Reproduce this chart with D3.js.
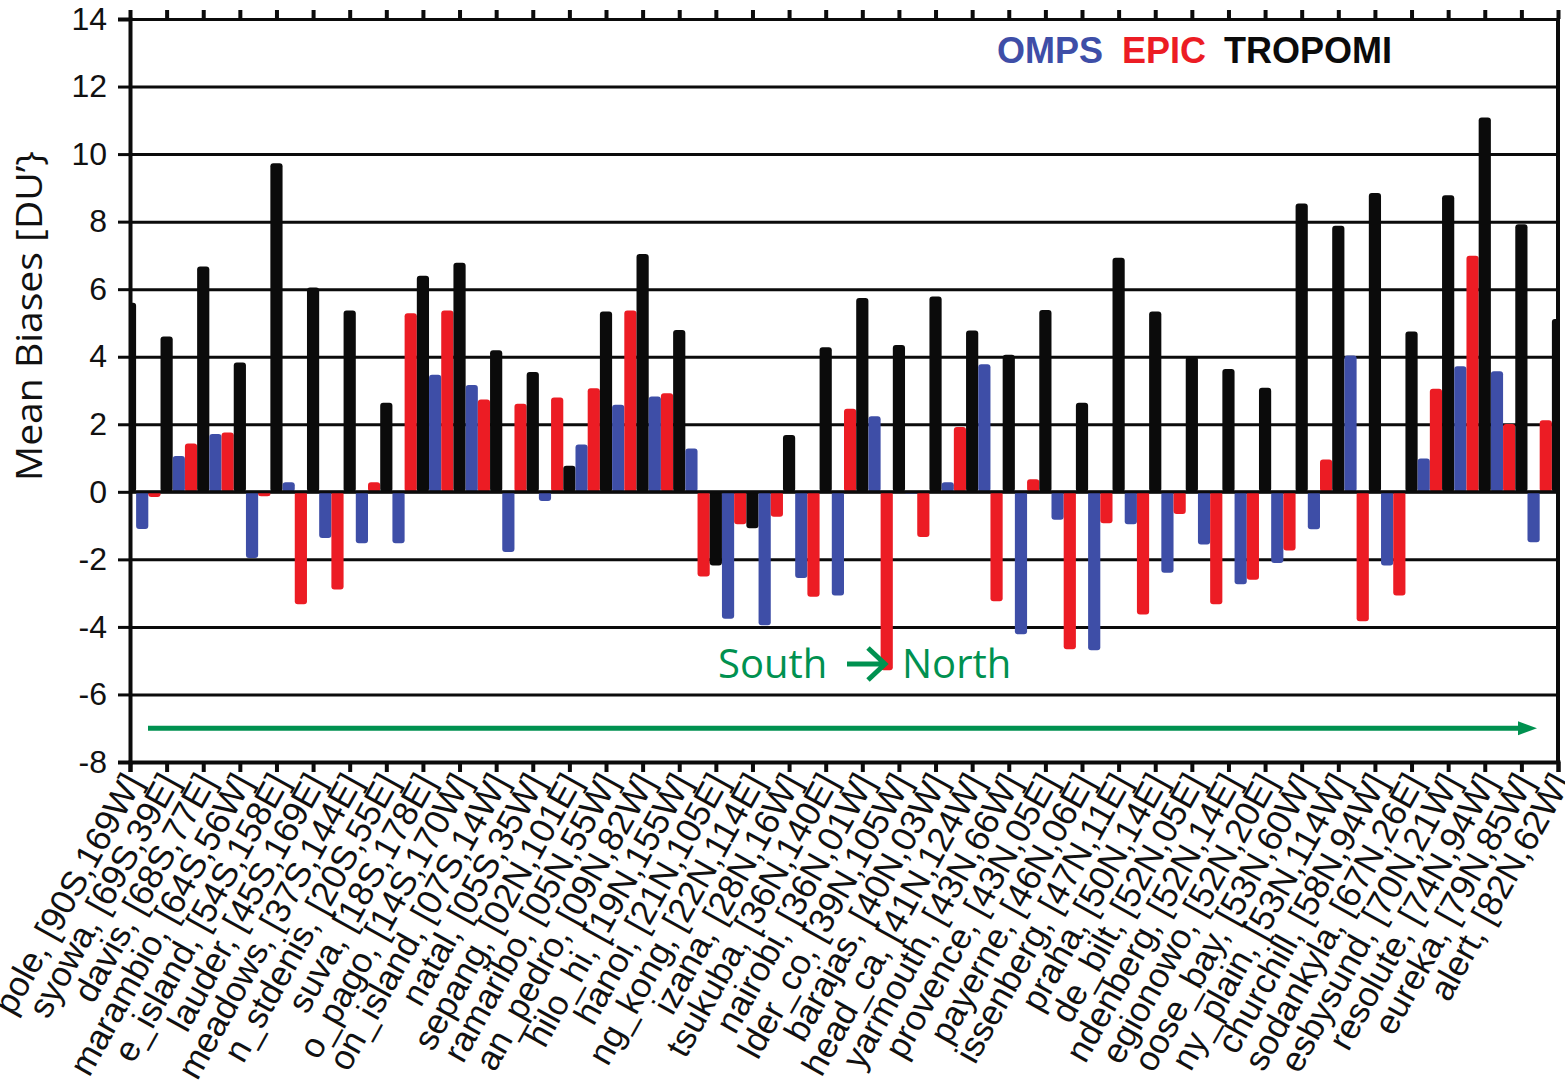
<!DOCTYPE html>
<html>
<head>
<meta charset="utf-8">
<script src="https://cdn.jsdelivr.net/npm/d3@7/dist/d3.min.js"></script>
<style>
  body { margin: 0; background: #fff; }
</style>
</head>
<body>
<div id="chart"></div>
<script>
// stations, south to north (names are cut as in the original figure)
const stations = [
  "pole, [90S,169W]", "syowa, [69S,39E]", "davis, [68S,77E]", "marambio, [64S,56W]",
  "e_island, [54S,158E]", "lauder, [45S,169E]", "meadows, [37S,144E]", "n_stdenis, [20S,55E]",
  "suva, [18S,178E]", "o_pago, [14S,170W]", "on_island, [07S,14W]", "natal, [05S,35W]",
  "sepang, [02N,101E]", "ramaribo, [05N,55W]", "an_pedro, [09N,82W]", "hilo_hi, [19N,155W]",
  "hanoi, [21N,105E]", "ng_kong, [22N,114E]", "izana, [28N,16W]", "tsukuba, [36N,140E]",
  "nairobi, [36N,01W]", "lder_co, [39N,105W]", "barajas, [40N,03W]", "head_ca, [41N,124W]",
  "yarmouth, [43N,66W]", "provence, [43N,05E]", "payerne, [46N,06E]", "issenberg, [47N,11E]",
  "praha, [50N,14E]", "de_bilt, [52N,05E]", "ndenberg, [52N,14E]", "egionowo, [52N,20E]",
  "oose_bay, [53N,60W]", "ny_plain, [53N,114W]", "churchill, [58N,94W]", "sodankyla, [67N,26E]",
  "esbysund, [70N,21W]", "resolute, [74N,94W]", "eureka, [79N,85W]", "alert, [82N,62W]"
];

const series = ["OMPS", "EPIC", "TROPOMI"];

// mean biases (DU)
const omps = [
  null, -1.1, 1.06, 1.71, -1.96, 0.28, -1.37, -1.52, -1.52, 3.47,
  3.16, -1.78, -0.27, 1.4, 2.58, 2.82, 1.28, -3.76, -3.95, -2.55,
  -3.07, 2.24, -0.05, 0.28, 3.78, -4.22, -0.83, -4.69, -0.96, -2.4,
  -1.56, -2.74, -2.11, -1.11, 4.04, -2.18, 0.99, 3.72, 3.57, -1.49
];
const epic = [
  null, -0.15, 1.43, 1.76, -0.13, -3.33, -2.89, 0.28, 5.29, 5.37,
  2.73, 2.61, 2.79, 3.07, 5.37, 2.92, -2.51, -0.96, -0.74, -3.11,
  2.46, -5.28, -1.34, 1.92, -3.24, 0.37, -4.66, -0.93, -3.63, -0.66,
  -3.33, -2.6, -1.74, 0.96, -3.83, -3.07, 3.05, 6.99, 2.01, 2.12
];
const tropomi = [
  5.6, 4.6, 6.67, 3.83, 9.73, 6.05, 5.37, 2.64, 6.4, 6.78,
  4.19, 3.55, 0.77, 5.34, 7.04, 4.79, -2.18, -1.08, 1.68, 4.28,
  5.74, 4.35, 5.78, 4.78, 4.06, 5.38, 2.64, 6.93, 5.34, 4.0,
  3.64, 3.08, 8.54, 7.88, 8.85, 4.75, 8.78, 11.08, 7.92, 5.12
];

const yTicks = d3.range(-8, 15, 2);
const colors = { OMPS: "#3e4ea7", EPIC: "#ec1c24", TROPOMI: "#0b0b0b" };

const W = 1565, H = 1089;
const margin = { top: 19, right: 7, bottom: 327, left: 130 };
const width = W - margin.left - margin.right;
const height = H - margin.top - margin.bottom;

const svg = d3.select("#chart").append("svg")
  .attr("width", W)
  .attr("height", H);

const g = svg.append("g")
  .attr("transform", `translate(${margin.left},${margin.top})`);

const x = d3.scalePoint().domain(stations).range([0, width]);
const y = d3.scaleLinear().domain([-8, 14]).range([height, 0]);

// three bars per station, the black one sits on the tick
const w = x.step() / 3;
const sub = d3.scaleBand().domain(series).range([-2.5 * w, 0.5 * w]).padding(0);

svg.append("defs").append("clipPath").attr("id", "plot")
  .append("rect").attr("width", width).attr("height", height);

// gridlines
g.append("g")
  .call(d3.axisLeft(y).tickValues(yTicks).tickSize(-width).tickFormat(""))
  .call(s => s.select(".domain").remove())
  .call(s => s.selectAll("line").attr("stroke", "#0b0b0b").attr("stroke-width", 3));

const rows = [];
stations.forEach((s, i) => {
  [["OMPS", omps[i]], ["EPIC", epic[i]], ["TROPOMI", tropomi[i]]].forEach(([k, v]) => {
    if (v !== null) rows.push({ station: s, key: k, value: v });
  });
});

g.append("g").attr("clip-path", "url(#plot)")
  .selectAll("rect")
  .data(rows)
  .enter()
  .append("rect")
  .attr("x", d => x(d.station) + sub(d.key))
  .attr("y", d => y(Math.max(0, d.value)))
  .attr("width", sub.bandwidth())
  .attr("height", d => Math.abs(y(d.value) - y(0)))
  .attr("rx", 3)
  .attr("fill", d => colors[d.key]);

// redraw the zero line over the bar ends
g.append("line")
  .attr("x1", 0).attr("x2", width)
  .attr("y1", y(0)).attr("y2", y(0))
  .attr("stroke", "#0b0b0b").attr("stroke-width", 3);

// left axis
g.append("g")
  .call(d3.axisLeft(y).tickValues(yTicks).tickFormat(d => String(d)).tickSize(12).tickPadding(11))
  .call(s => s.select(".domain").attr("stroke-width", 4).attr("stroke", "#0b0b0b"))
  .call(s => s.selectAll("line").attr("stroke-width", 3).attr("stroke", "#0b0b0b"))
  .call(s => s.selectAll("text")
    .attr("font-family", "Liberation Sans, Arial, sans-serif")
    .attr("font-size", 32)
    .attr("fill", "#111"));

// right edge
g.append("line")
  .attr("x1", width).attr("x2", width)
  .attr("y1", 0).attr("y2", height)
  .attr("stroke", "#0b0b0b").attr("stroke-width", 4);

// top ticks
g.append("g")
  .call(d3.axisTop(x).tickSize(9).tickFormat(""))
  .call(s => s.select(".domain").remove())
  .call(s => s.selectAll("line").attr("stroke-width", 4).attr("stroke", "#0b0b0b"));

// bottom axis
const xAxis = g.append("g")
  .attr("transform", `translate(0,${height})`)
  .call(d3.axisBottom(x).tickSize(10))
  .call(s => s.select(".domain").attr("stroke-width", 4).attr("stroke", "#0b0b0b"))
  .call(s => s.selectAll("line").attr("stroke-width", 4).attr("stroke", "#0b0b0b"));

xAxis.selectAll("text")
  .attr("font-family", "Liberation Sans, Arial, sans-serif")
  .attr("font-size", 35)
  .attr("fill", "#111")
  .attr("text-anchor", "end")
  .attr("dy", 0)
  .attr("y", 0)
  .attr("transform", "translate(13,20) rotate(-61)");

// y title
svg.append("text")
  .attr("transform", `translate(42,316) rotate(-90)`)
  .attr("text-anchor", "middle")
  .attr("font-family", "Open Sans, sans-serif")
  .attr("font-size", 36)
  .attr("textLength", 330)
  .attr("lengthAdjust", "spacingAndGlyphs")
  .attr("fill", "#111")
  .text("Mean Biases [DU\u2019}");

// legend
const legend = [
  { text: "OMPS", x: 997, color: colors.OMPS },
  { text: "EPIC", x: 1122, color: colors.EPIC },
  { text: "TROPOMI", x: 1224, color: colors.TROPOMI }
];
svg.selectAll(".leg")
  .data(legend)
  .enter()
  .append("text")
  .attr("x", d => d.x)
  .attr("y", 63)
  .attr("font-family", "Liberation Sans, Arial, sans-serif")
  .attr("font-weight", "bold")
  .attr("font-size", 36)
  .attr("fill", d => d.color)
  .text(d => d.text);

// south -> north annotation
const green = "#009150";
svg.append("text")
  .attr("x", 718).attr("y", 678)
  .attr("font-family", "Open Sans, sans-serif")
  .attr("font-size", 40)
  .attr("fill", green)
  .text("South");
svg.append("path")
  .attr("d", "M847,664H884M868,648L885,664L868,680")
  .attr("fill", "none")
  .attr("stroke", green)
  .attr("stroke-width", 5);
svg.append("text")
  .attr("x", 902).attr("y", 678)
  .attr("font-family", "Open Sans, sans-serif")
  .attr("font-size", 40)
  .attr("fill", green)
  .text("North");

const ay = margin.top + y(-7);
svg.append("line")
  .attr("x1", 148).attr("x2", 1522)
  .attr("y1", ay).attr("y2", ay)
  .attr("stroke", green).attr("stroke-width", 5);
svg.append("path")
  .attr("d", `M1518,${ay - 7}L1537,${ay}L1518,${ay + 7}Z`)
  .attr("fill", green);
</script>
</body>
</html>
